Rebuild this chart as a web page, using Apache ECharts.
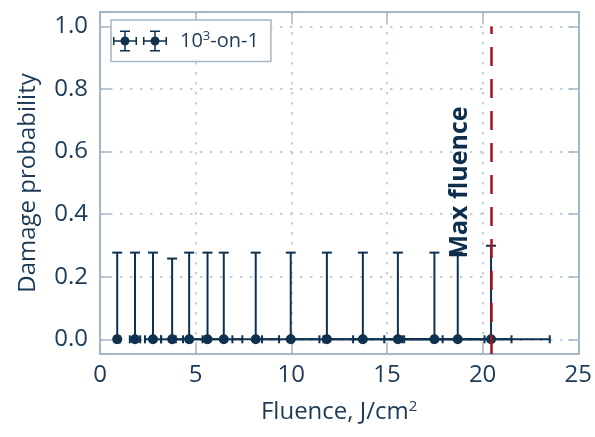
<!DOCTYPE html>
<html>
<head>
<meta charset="utf-8">
<script src="https://cdn.jsdelivr.net/npm/echarts@6/dist/echarts.min.js"></script>
<style>
html,body{margin:0;padding:0;background:#fff;}
#chart{width:595px;height:437px;}
</style>
</head>
<body>
<div id="chart"></div>
<script>
// ---- data ----
const fluence      = [0.90, 1.83, 2.77, 3.77, 4.66, 5.62, 6.47, 8.14, 9.97, 11.86, 13.74, 15.57, 17.48, 18.70, 20.44];
const probability  = [0, 0, 0, 0, 0, 0, 0, 0, 0, 0, 0, 0, 0, 0, 0];
const fluenceLow   = [0.77, 1.56, 2.35, 3.20, 3.96, 4.78, 5.50, 6.92, 8.47, 10.08, 11.68, 13.23, 14.86, 15.90, 17.37];
const fluenceHigh  = [1.04, 2.10, 3.19, 4.34, 5.36, 6.46, 7.44, 9.36, 11.47, 13.64, 15.80, 17.91, 20.10, 21.51, 23.51];
const probLow      = [0, 0, 0, 0, 0, 0, 0, 0, 0, 0, 0, 0, 0, 0, 0];
const probHigh     = [0.277, 0.277, 0.277, 0.258, 0.277, 0.277, 0.277, 0.277, 0.277, 0.277, 0.277, 0.277, 0.277, 0.277, 0.299];
const maxFluence   = 20.44;
const xTicks       = [0, 5, 10, 15, 20, 25];
const yTicks       = [0, 0.2, 0.4, 0.6, 0.8, 1.0];
const seriesName   = '10^3-on-1';

const navy = '#0f3150';
const textColor = '#1c3a56';
const frameColor = '#a3b7c6';
const gridColor = '#c3d0d9';
const font = 'Open Sans';

const errData = fluence.map((x, i) => [x, probability[i], fluenceLow[i], fluenceHigh[i], probLow[i], probHigh[i]]);
const ptData = fluence.map((x, i) => [x, probability[i]]);

const legendIcon = 'path://' +
  'M0 9.75 L24 9.75 L24 11.25 L0 11.25 Z ' +
  'M0 6.5 L1.5 6.5 L1.5 14.5 L0 14.5 Z M22.5 6.5 L24 6.5 L24 14.5 L22.5 14.5 Z ' +
  'M11.25 0 L12.75 0 L12.75 21 L11.25 21 Z ' +
  'M7 0 L17 0 L17 1.5 L7 1.5 Z M7 19.5 L17 19.5 L17 21 L7 21 Z ' +
  'M16.5 10.5 A4.5 4.5 0 1 1 7.5 10.5 A4.5 4.5 0 1 1 16.5 10.5 Z ' +
  'M30 9.75 L54 9.75 L54 11.25 L30 11.25 Z ' +
  'M30 6.5 L31.5 6.5 L31.5 14.5 L30 14.5 Z M52.5 6.5 L54 6.5 L54 14.5 L52.5 14.5 Z ' +
  'M41.25 0 L42.75 0 L42.75 21 L41.25 21 Z ' +
  'M37 0 L47 0 L47 1.5 L37 1.5 Z M37 19.5 L47 19.5 L47 21 L37 21 Z ' +
  'M46.5 10.5 A4.5 4.5 0 1 1 37.5 10.5 A4.5 4.5 0 1 1 46.5 10.5 Z';

const chart = echarts.init(document.getElementById('chart'), null, {renderer: 'canvas'});

const axisLine = {show: true, onZero: false, lineStyle: {color: frameColor, width: 2}};
const tickStyle = {show: true, inside: true, length: 10, lineStyle: {color: frameColor, width: 1.5}};
const splitLine = {show: true, lineStyle: {color: gridColor, width: 2, type: [2.5, 7.5]}};

const option = {
  animation: false,
  backgroundColor: '#ffffff',
  grid: {left: 100, right: 16, top: 12, bottom: 83, containLabel: false},
  legend: {
    left: 111, top: 20,
    orient: 'horizontal',
    padding: [10, 12, 10, 2],
    itemWidth: 54, itemHeight: 21,
    borderColor: frameColor, borderWidth: 1.5, borderRadius: 0,
    backgroundColor: '#ffffff',
    data: [{name: seriesName, icon: legendIcon}],
    formatter: () => '10{sup|3}-on-1',
    textStyle: {
      fontFamily: font, fontSize: 20, color: textColor, padding: [0, 0, 0, 8],
      rich: {sup: {fontFamily: font, fontSize: 13, color: textColor, padding: [0, 0, 9, 0]}}
    }
  },
  xAxis: [{
    type: 'value', min: 0, max: 25, interval: 5, position: 'bottom',
    axisLine: axisLine, axisTick: tickStyle, splitLine: splitLine,
    axisLabel: {fontFamily: font, fontSize: 24, color: textColor, margin: 9,
      customValues: xTicks},
    name: 'Fluence, J/cm{sup|2}', nameLocation: 'middle', nameGap: 45,
    nameTextStyle: {fontFamily: font, fontSize: 24, color: textColor,
      rich: {sup: {fontFamily: font, fontSize: 15, color: textColor, padding: [0, 0, 11, 0]}}}
  }, {
    type: 'value', min: 0, max: 25, interval: 5, position: 'top',
    axisLine: axisLine, axisTick: tickStyle, splitLine: {show: false},
    axisLabel: {show: false}
  }],
  yAxis: [{
    type: 'value', min: -0.047, max: 1.046, position: 'left',
    axisLine: axisLine,
    axisTick: Object.assign({}, tickStyle, {customValues: yTicks}),
    splitLine: splitLine,
    axisLabel: {fontFamily: font, fontSize: 24, color: textColor, margin: 12,
      customValues: yTicks, formatter: v => Number(v).toFixed(1)},
    name: 'Damage probability', nameLocation: 'middle', nameGap: 60,
    nameTextStyle: {fontFamily: font, fontSize: 24, color: textColor}
  }, {
    type: 'value', min: -0.047, max: 1.046, position: 'right',
    axisLine: axisLine,
    axisTick: Object.assign({}, tickStyle, {customValues: yTicks}),
    splitLine: {show: false},
    axisLabel: {show: false, customValues: yTicks}
  }],
  series: [{
    type: 'custom',
    name: 'errors',
    xAxisIndex: 0, yAxisIndex: 0,
    z: 2,
    data: errData,
    renderItem: function (params, api) {
      const x = api.value(0), y = api.value(1);
      const xl = api.coord([api.value(2), y]);
      const xh = api.coord([api.value(3), y]);
      const yl = api.coord([x, api.value(4)]);
      const yh = api.coord([x, api.value(5)]);
      const st = {stroke: navy, lineWidth: 2, fill: null};
      const capX = 4, capY = 5;
      const ln = (x1, y1, x2, y2) => ({type: 'line', shape: {x1, y1, x2, y2}, style: st});
      return {type: 'group', children: [
        ln(xl[0], xl[1], xh[0], xh[1]),
        ln(xl[0], xl[1] - capX, xl[0], xl[1] + capX),
        ln(xh[0], xh[1] - capX, xh[0], xh[1] + capX),
        ln(yl[0], yl[1], yh[0], yh[1]),
        ln(yh[0] - capY, yh[1], yh[0] + capY, yh[1])
      ]};
    }
  }, {
    type: 'line',
    name: 'maxline',
    xAxisIndex: 0, yAxisIndex: 0,
    z: 3,
    data: [],
    symbol: 'none',
    markLine: {
      silent: true, symbol: ['none', 'none'], animation: false,
      label: {show: false},
      lineStyle: {color: '#a8121a', width: 2.5, type: [19, 13]},
      data: [[{coord: [maxFluence, -0.047]}, {coord: [maxFluence, 1.0]}]]
    }
  }, {
    type: 'scatter',
    name: seriesName,
    xAxisIndex: 0, yAxisIndex: 0,
    z: 4,
    symbol: 'circle', symbolSize: 10,
    itemStyle: {color: navy, opacity: 1},
    data: ptData
  }],
  graphic: [{
    type: 'text',
    x: 460, y: 182.5,
    rotation: Math.PI / 2,
    z: 10,
    style: {text: 'Max fluence', fill: '#0d2e4c', font: 'bold 25px "Open Sans"',
      textAlign: 'center', textVerticalAlign: 'middle'}
  }]
};
chart.setOption(option);
</script>
</body>
</html>
